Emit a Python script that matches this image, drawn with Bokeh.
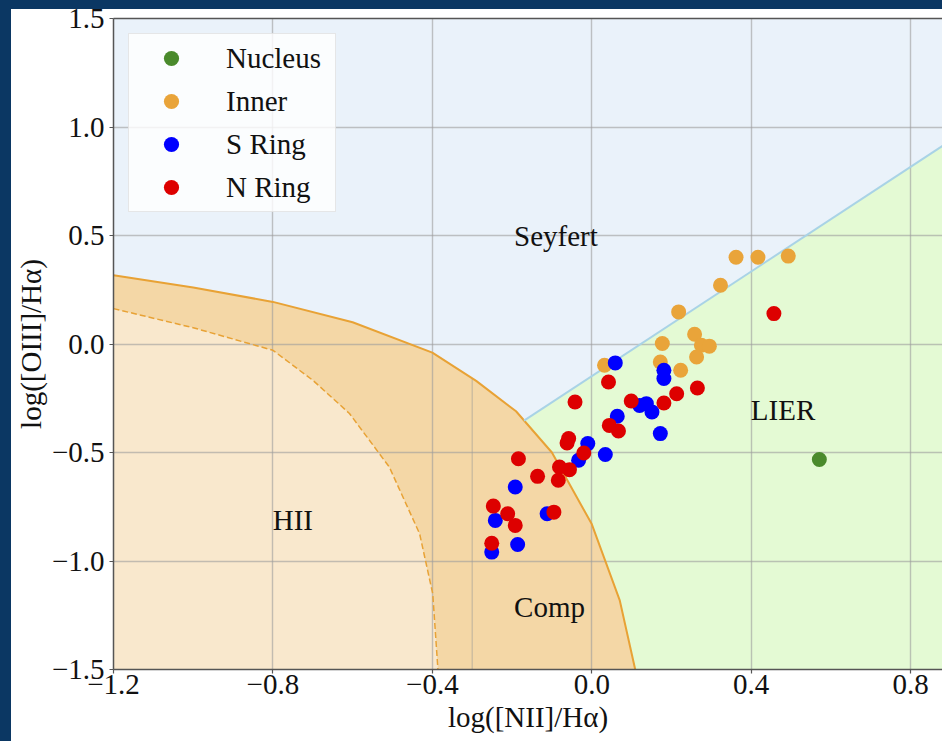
import numpy as np
from bokeh.plotting import figure
from bokeh.models import (Label, LinearAxis, FixedTicker, CustomJSTickFormatter,
                          Range1d)
from bokeh.layouts import column
from bokeh.embed import file_html
from bokeh.resources import INLINE

# ---- emission-line ratios per region: log([NII]/Ha), log([OIII]/Hb) ----
nucleus_x = [0.571]
nucleus_y = [-0.532]

inner_x = [0.032, 0.177, 0.172, 0.218, 0.223, 0.258, 0.275, 0.295, 0.263,
           0.323, 0.362, 0.417, 0.493]
inner_y = [-0.098, 0.002, -0.083, 0.148, -0.121, 0.045, -0.006, -0.010, -0.060,
           0.271, 0.400, 0.400, 0.405]

s_ring_x = [0.059, 0.181, 0.181, 0.120, 0.137, 0.151, 0.172, 0.064, -0.010,
            -0.033, 0.034, -0.192, -0.242, -0.186, -0.251, -0.112]
s_ring_y = [-0.087, -0.121, -0.159, -0.283, -0.275, -0.313, -0.413, -0.333, -0.459,
            -0.536, -0.509, -0.659, -0.813, -0.924, -0.959, -0.782]

n_ring_x = [0.042, -0.042, 0.099, 0.181, 0.213, 0.265, 0.457, 0.044, 0.067,
            -0.058, -0.062, -0.020, -0.081, -0.056, -0.084, -0.184, -0.136,
            -0.247, -0.211, -0.192, -0.095, -0.251]
n_ring_y = [-0.175, -0.267, -0.263, -0.272, -0.229, -0.203, 0.140, -0.375, -0.401,
            -0.436, -0.456, -0.502, -0.567, -0.579, -0.628, -0.529, -0.610,
            -0.747, -0.782, -0.836, -0.775, -0.918]

# ---- demarcation lines ----
# maximum-starburst line (solid)
kew_x = [-1.2, -1.0, -0.8, -0.6, -0.4, -0.29, -0.19, -0.1, 0.0, 0.07, 0.109]
kew_y = [0.317, 0.26, 0.194, 0.10, -0.04, -0.17, -0.31, -0.50, -0.83, -1.18, -1.5]
# pure star-forming line (dashed)
kau_x = [-1.2, -1.0, -0.8, -0.7, -0.608, -0.508, -0.432, -0.399, -0.386]
kau_y = [0.163, 0.075, -0.029, -0.167, -0.32, -0.567, -0.874, -1.151, -1.5]
# Seyfert / LIER division
sey_x = [-0.17, 0.95]
sey_y = [-0.353, 0.997]
# seam between the composite fills
seam_x = -0.3

x_ticks = [-1.2, -0.8, -0.4, 0.0, 0.4, 0.8]
y_ticks = [-1.5, -1.0, -0.5, 0.0, 0.5, 1.0, 1.5]

region_names = ["Seyfert", "LIER", "HII", "Comp"]
region_x = [-0.090, 0.480, -0.750, -0.106]
region_y = [0.496, -0.306, -0.810, -1.210]

# ---- styling ----
FONT = "Liberation Serif"
FS = "29px"
NAVY = "#0b3763"
SEY_BG = "#eaf2fa"
LIER_BG = "#e4fad4"
COMP_BG = "#f4d7a6"
HII_BG = "#f9e8cd"
CURVE = "#e8a235"
AXIS_C = "#555555"
Y_LO, Y_HI = -1.5, 1.5
X_LO, X_HI = -1.2, 0.880

p = figure(width=931, height=741, output_backend="svg", toolbar_location=None,
           x_range=Range1d(X_LO, X_HI), y_range=Range1d(Y_LO, Y_HI),
           min_border_left=102, min_border_right=0, min_border_top=18,
           min_border_bottom=72, background_fill_color=SEY_BG,
           border_fill_alpha=0.0, outline_line_color=None)
p.margin = (0, 0, 0, 11)

# filled regions (drawn beneath the grid)
lier = p.patch([sey_x[0], sey_x[1], sey_x[1], sey_x[0]],
               [sey_y[0], sey_y[1], Y_LO, Y_LO],
               fill_color=LIER_BG, line_color=None)
comp = p.patch(kew_x + [X_LO], kew_y + [Y_LO], fill_color=COMP_BG, line_color=None)
hii = p.patch(kau_x + [X_LO], kau_y + [Y_LO], fill_color=HII_BG, line_color=None)
for r in (lier, comp, hii):
    r.level = "image"

seam_top = float(np.interp(seam_x, kew_x, kew_y))
p.line([seam_x, seam_x], [seam_top, Y_LO], line_color="#9a9a9a", line_alpha=0.5,
       line_width=1.2)

# boundary curves
p.line(kew_x, kew_y, line_color=CURVE, line_width=2)
p.line(kau_x, kau_y, line_color=CURVE, line_width=1.5, line_dash="6 3")
p.line(sey_x, sey_y, line_color="#a9d3e6", line_width=2)

# data points
p.scatter(nucleus_x, nucleus_y, size=15, color="#4a8a2c", line_color=None,
          legend_label="Nucleus")
p.scatter(inner_x, inner_y, size=15, color="#e9a43a", line_color=None,
          legend_label="Inner")
p.scatter(s_ring_x, s_ring_y, size=15, color="#0000ff", line_color=None,
          legend_label="S Ring")
p.scatter(n_ring_x, n_ring_y, size=15, color="#dd0000", line_color=None,
          legend_label="N Ring")

# region names
for name, rx, ry in zip(region_names, region_x, region_y):
    p.add_layout(Label(x=rx, y=ry, text=name, text_font=FONT, text_font_size=FS,
                       text_align="center", text_baseline="alphabetic",
                       text_color="#111111"))

# axes
fmt = CustomJSTickFormatter(code="""
const v = Math.abs(tick) < 1e-9 ? 0 : tick;
return v.toFixed(1).replace('-', '\u2212');
""")
for ax, ticks in ((p.xaxis, x_ticks), (p.yaxis, y_ticks)):
    ax.ticker = FixedTicker(ticks=ticks)
    ax.formatter = fmt
    ax.major_label_text_font = FONT
    ax.major_label_text_font_size = FS
    ax.major_label_text_color = "#111111"
    ax.axis_line_color = AXIS_C
    ax.axis_line_width = 1.5
    ax.major_tick_line_color = AXIS_C
    ax.major_tick_line_width = 1.2
    ax.major_tick_in = 0
    ax.major_tick_out = 4
    ax.minor_tick_line_color = None
    ax.axis_label_text_font = FONT
    ax.axis_label_text_font_size = FS
    ax.axis_label_text_font_style = "normal"
    ax.axis_label_text_color = "#111111"
p.xaxis.major_label_standoff = 1
p.yaxis.major_label_standoff = 5
p.xaxis.axis_label = "log([NII]/Hα)"
p.yaxis.axis_label = "log([OIII]/Hα)"
p.xaxis.axis_label_standoff = 4
p.yaxis.axis_label_standoff = 2

top = LinearAxis(ticker=FixedTicker(ticks=[]), major_label_text_font_size="0px",
                 major_tick_line_color=None, minor_tick_line_color=None,
                 axis_line_color=AXIS_C, axis_line_width=1.5,
                 major_label_standoff=0)
p.add_layout(top, "above")

p.grid.grid_line_color = "#9c9c9c"
p.grid.grid_line_alpha = 0.6
p.grid.grid_line_width = 1.4
p.xgrid.ticker = FixedTicker(ticks=x_ticks)
p.ygrid.ticker = FixedTicker(ticks=y_ticks)

# legend
lg = p.legend[0]
lg.location = "top_left"
lg.margin = 15
lg.padding = 5
lg.spacing = 5
lg.glyph_width = 74
lg.glyph_height = 38
lg.label_height = 31
lg.label_width = 104
lg.label_standoff = 18
lg.label_text_font = FONT
lg.label_text_font_size = FS
lg.label_text_color = "#111111"
lg.background_fill_color = "white"
lg.background_fill_alpha = 0.8
lg.border_line_color = "#cfcfcf"
lg.border_line_width = 1.2

# navy frame along the top and left edges of the page, white elsewhere
page_bg = (f"linear-gradient(to bottom, {NAVY} 9px, rgba(0,0,0,0) 9px), "
           f"linear-gradient(to right, {NAVY} 11px, #ffffff 11px)")
page = column(p, width=942, height=741, styles={"background": page_bg})

open("out.html", "w").write(file_html(page, INLINE))
